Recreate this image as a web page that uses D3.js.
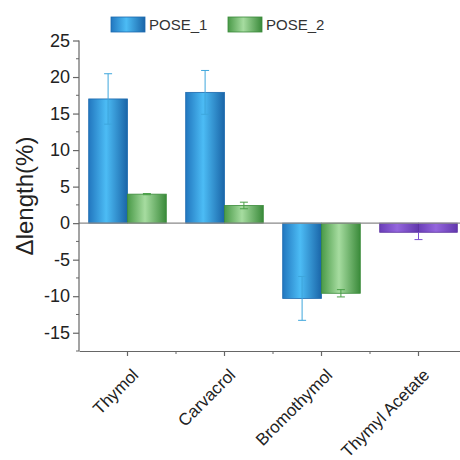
<!DOCTYPE html>
<html><head><meta charset="utf-8">
<script src="https://cdn.jsdelivr.net/npm/d3@7"></script>
<style>body{margin:0;background:#fff}svg{display:block}</style>
</head><body>
<svg id="c" width="460" height="460"></svg>
<script>
const categories = ["Thymol","Carvacrol","Bromothymol","Thymyl Acetate"];
const series = ["POSE_1","POSE_2"];
const pose1 = [17.0, 17.9, -10.3, -1.25];
const pose1Err = [3.45, 3.0, 3.0, 1.0];
const pose2 = [3.97, 2.42, -9.6, -1.25];
const pose2Err = [0.08, 0.45, 0.5, 0];
const yTicks = [-15,-10,-5,0,5,10,15,20,25];

(function(){
const svg = d3.select("#c");
const font = "Liberation Sans, Arial, sans-serif";
const mLeft = 79, mRight = 467, mTop = 40.5, mBottom = 351;

const x = d3.scaleBand().domain(categories).range([mLeft, mRight]).paddingInner(0.2).paddingOuter(0.1);
const x1 = d3.scaleBand().domain(series).range([0, x.bandwidth()]);
const y = d3.scaleLinear().domain([-17.5, 25]).range([mBottom, mTop]);

const defs = svg.append("defs");
function grad(id, dark, light, dark2){
  const g = defs.append("linearGradient").attr("id", id).attr("x1","0").attr("x2","1").attr("y1","0").attr("y2","0");
  g.append("stop").attr("offset","0%").attr("stop-color", dark);
  g.append("stop").attr("offset","45%").attr("stop-color", light);
  g.append("stop").attr("offset","100%").attr("stop-color", dark2);
}
grad("gBlue", "#2277bf", "#4cbcf5", "#1a65a8");
grad("gGreen", "#4a9a48", "#a6dca0", "#3a8a3a");
grad("gPurple", "#6a3eb8", "#9466dd", "#6238ad");

const colors = {POSE_1:"url(#gBlue)", POSE_2:"url(#gGreen)"};
const strokes = {POSE_1:"#1d6aae", POSE_2:"#3b8b3b"};
const errColors = {POSE_1:"#3ea6dc", POSE_2:"#4a9f48"};

const data = [];
categories.forEach((c,i)=>{
  const purple = c === "Thymyl Acetate";
  data.push({c, s:"POSE_1", v:pose1[i], e:pose1Err[i], purple});
  data.push({c, s:"POSE_2", v:pose2[i], e:pose2Err[i], purple});
});

svg.append("g").selectAll("rect").data(data).join("rect")
  .attr("x", d => x(d.c) + x1(d.s))
  .attr("width", x1.bandwidth())
  .attr("y", d => y(Math.max(0, d.v)))
  .attr("height", d => Math.abs(y(d.v) - y(0)))
  .attr("fill", d => d.purple ? "url(#gPurple)" : colors[d.s])
  .attr("stroke", d => d.purple ? "#5a30a0" : strokes[d.s])
  .attr("stroke-width", 0.8);

const eb = svg.append("g");
data.forEach(d=>{
  if (d.e <= 0) return;
  const cx = d.purple ? x(d.c) + x.bandwidth()/2 : x(d.c) + x1(d.s) + x1.bandwidth()/2;
  const col = d.purple ? "#7a4fcf" : errColors[d.s];
  const y1 = y(d.v + d.e), y2 = y(d.v - d.e);
  if (d.purple) {
    eb.append("line").attr("x1",cx).attr("x2",cx).attr("y1",y(d.v)).attr("y2",y2).attr("stroke",col).attr("stroke-width",1);
    eb.append("line").attr("x1",cx-4).attr("x2",cx+4).attr("y1",y2).attr("y2",y2).attr("stroke",col).attr("stroke-width",1);
    return;
  }
  eb.append("line").attr("x1",cx).attr("x2",cx).attr("y1",y1).attr("y2",y2).attr("stroke",col).attr("stroke-width",1);
  [y1,y2].forEach(yy=>eb.append("line").attr("x1",cx-4).attr("x2",cx+4).attr("y1",yy).attr("y2",yy).attr("stroke",col).attr("stroke-width",1));
});

svg.append("line").attr("x1", mLeft).attr("x2", 460).attr("y1", y(0)).attr("y2", y(0))
  .attr("stroke", "#8a8a8a").attr("stroke-width", 1.2);

const yAxis = d3.axisLeft(y).tickValues(yTicks).tickFormat(d => String(d)).tickSize(6).tickSizeOuter(0).tickPadding(3);
const gy = svg.append("g").attr("transform", `translate(${mLeft},0)`).call(yAxis);
gy.select(".domain").attr("stroke","#666").attr("stroke-width",1.2).attr("d", `M0,${mTop}V${mBottom}`);
gy.selectAll(".tick line").attr("stroke","#666").attr("stroke-width",1.2);
gy.selectAll(".tick text").attr("font-family", font).attr("font-size", 18).attr("fill","#222");
const minorY = d3.range(-17.5, 25.01, 2.5).filter(v => !yTicks.includes(v));
gy.selectAll(".minor").data(minorY).join("line").attr("class","minor")
  .attr("x1",-3).attr("x2",0).attr("y1",d=>y(d)).attr("y2",d=>y(d)).attr("stroke","#666").attr("stroke-width",1);

const xAxis = d3.axisBottom(x).tickSize(5).tickSizeOuter(0).tickFormat("");
const gx = svg.append("g").attr("transform", `translate(0,${mBottom})`).call(xAxis);
gx.select(".domain").attr("stroke","#666").attr("stroke-width",1.2);
gx.selectAll(".tick line").attr("stroke","#666").attr("stroke-width",1.2);
const minorX = categories.slice(0,-1).map(c => x(c) + x.bandwidth()/2 + x.step()/2);
gx.selectAll(".minor").data(minorX).join("line").attr("class","minor")
  .attr("x1",d=>d).attr("x2",d=>d).attr("y1",0).attr("y2",3).attr("stroke","#666").attr("stroke-width",1);
gx.selectAll(".lbl").data(categories).join("text").attr("class","lbl")
  .attr("transform", d => `translate(${x(d)+x.bandwidth()/2+12},${25}) rotate(-45)`)
  .attr("text-anchor","end").attr("font-family",font).attr("font-size",17).attr("fill","#222")
  .text(d=>d);

svg.append("text").attr("transform", `translate(33,196) rotate(-90)`)
  .attr("text-anchor","middle").attr("font-family",font).attr("font-size",24).attr("fill","#222")
  .text("Δlength(%)");

const legX = [111, 228];
series.forEach((s,i)=>{
  svg.append("rect").attr("x", legX[i]).attr("y", 17).attr("width", 34).attr("height", 15)
    .attr("fill", colors[s]).attr("stroke", strokes[s]).attr("stroke-width", 0.8);
  svg.append("text").attr("x", legX[i]+38).attr("y", 30).attr("font-family",font).attr("font-size",15).attr("fill","#333").text(s);
});
})();
</script>
</body></html>
